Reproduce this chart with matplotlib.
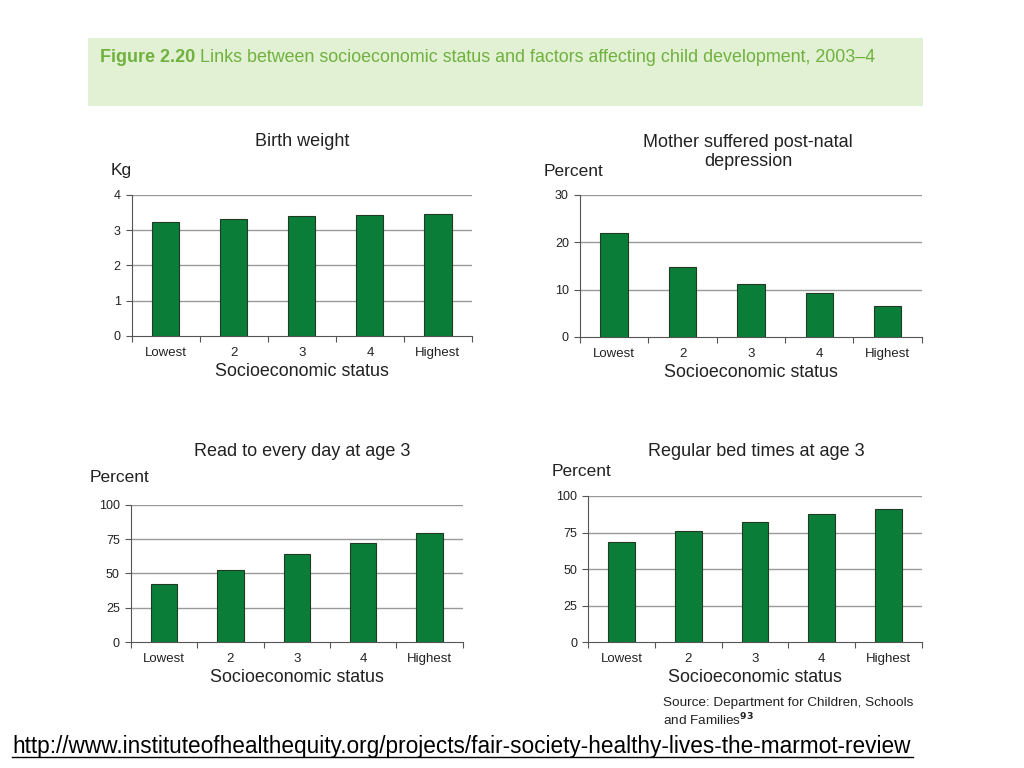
import matplotlib.pyplot as plt

plt.rcParams['font.family'] = ['Liberation Sans', 'DejaVu Sans']

categories = ['Lowest', '2', '3', '4', 'Highest']

birth_weight = [3.24, 3.32, 3.40, 3.42, 3.45]
post_natal = [21.9, 14.8, 11.2, 9.2, 6.6]
read_daily = [42.4, 52.8, 64.2, 72.4, 79.4]
bed_times = [68.4, 76.0, 81.9, 87.9, 91.3]

BAR = '#0a7d39'
EDGE = '#1f3a22'
GRID = '#9a9a9a'
W, H = 1024, 768


def px(x, y):
	# pixel coords (top-left origin) -> figure fraction
	return x / W, 1 - y / H


def panel(fig, rect, values, yticks, title, unit, title_xy, unit_xy):
	ax = fig.add_axes(rect)
	x = range(len(categories))
	ax.bar(x, values, width=0.4, color=BAR, edgecolor=EDGE, linewidth=0.8, zorder=3)
	ax.set_xlim(-0.5, len(categories) - 0.5)
	ax.set_ylim(yticks[0], yticks[-1])
	ax.set_yticks(yticks)
	ax.set_yticklabels([str(t) for t in yticks], fontsize=9, color='#222222')
	ax.set_xticks(list(x))
	ax.set_xticklabels(categories, fontsize=9.5, color='#222222')
	ax.tick_params(axis='x', length=0, pad=8)
	ax.tick_params(axis='y', length=4, width=0.8, color='#555555', pad=4)
	# minor ticks on category boundaries
	ax.set_xticks([i + 0.5 for i in range(-1, len(categories))], minor=True)
	ax.tick_params(axis='x', which='minor', length=4, width=0.8, color='#555555')
	for t in yticks[1:]:
		ax.axhline(t, color=GRID, linewidth=1.0, zorder=1)
	for s in ['top', 'right']:
		ax.spines[s].set_visible(False)
	for s in ['left', 'bottom']:
		ax.spines[s].set_color('#555555')
		ax.spines[s].set_linewidth(0.8)
	ax.set_xlabel('Socioeconomic status', fontsize=12.9, color='#222222', labelpad=2.5)
	fig.text(*px(*title_xy), title, fontsize=13, color='#222222', ha='center', va='center',
		linespacing=1.1)
	fig.text(*px(*unit_xy), unit, fontsize=12.5, color='#222222', ha='left', va='center')
	return ax


fig = plt.figure(figsize=(10.24, 7.68), dpi=100)

# header band
fig.patches.append(plt.Rectangle(px(88, 106), 835 / W, 68 / H, transform=fig.transFigure,
	facecolor='#e2f0d4', edgecolor='none'))
fig.text(*px(100, 57), 'Figure 2.20', fontsize=13, color='#6fb23e', fontweight='bold', va='center')
fig.text(*px(200, 57), 'Links between socioeconomic status and factors affecting child development, 2003\u20134',
	fontsize=12.9, color='#6fb23e', va='center')

panel(fig, [0.1286, 0.5625, 0.3323, 0.1836], birth_weight, [0, 1, 2, 3, 4],
	'Birth weight', 'Kg', (302, 142), (111, 171))
panel(fig, [0.5664, 0.5612, 0.3337, 0.1853], post_natal, [0, 10, 20, 30],
	'Mother suffered post-natal\ndepression', 'Percent', (748, 152), (544, 171))
panel(fig, [0.1279, 0.1637, 0.3239, 0.1792], read_daily, [0, 25, 50, 75, 100],
	'Read to every day at age 3', 'Percent', (302, 451), (90, 477))
panel(fig, [0.5745, 0.1637, 0.3256, 0.1905], bed_times, [0, 25, 50, 75, 100],
	'Regular bed times at age 3', 'Percent', (756, 451), (552, 471))

fig.text(*px(663, 703), 'Source: Department for Children, Schools', fontsize=9.7, color='#222222', va='center')
fig.text(*px(663, 720), 'and Families$^{\\mathbf{93}}$', fontsize=9.7, color='#222222', va='center')

fig.text(*px(12, 746), 'http://www.instituteofhealthequity.org/projects/fair-society-healthy-lives-the-marmot-review',
	fontsize=16.3, color='black', va='center')
fig.add_artist(plt.Line2D([12 / W, 913 / W], [1 - 757 / H, 1 - 757 / H], color='black', linewidth=1))

fig.savefig('out.png', dpi=100)
